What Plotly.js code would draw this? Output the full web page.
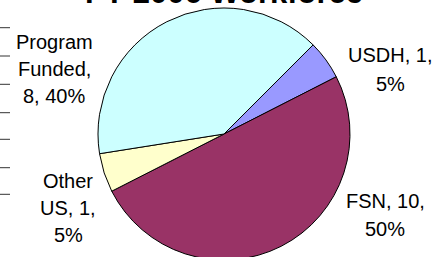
<!DOCTYPE html>
<html>
<head>
<meta charset="utf-8">
<script src="https://cdn.plot.ly/plotly-3.0.1.min.js"></script>
<style>
html, body { margin: 0; padding: 0; overflow: hidden; background: #fff; }
#wrap { width: 444px; height: 257px; overflow: hidden; }
#chart { width: 444px; height: 260px; }
</style>
</head>
<body>
<div id="wrap"><div id="chart"></div></div>
<script>
// ---- data ----
var chartTitle = "FY 2006 Workforce";
var categories = ["USDH", "FSN", "Other US", "Program Funded"];
var values = [1, 10, 1, 8];
var sliceColors = ["#9999FF", "#993366", "#FFFFCC", "#CCFFFF"];
// words per wrapped line of each data label
var labelWrap = [[2, 1], [2, 1], [1, 2, 1], [1, 1, 2]];

// ---- layout helpers (pixel positions) ----
var W = 444, H = 260, MT = 8, MB = 0;
function px2x(px) { return px / W; }
function px2y(py) { return (H - MB - py) / (H - MT - MB); }

// label block placement: center x, first line center y, line gap
var labelPos = [
  {x: 390, y: 55.3, gap: 29},
  {x: 385, y: 200.8, gap: 28.4},
  {x: 68, y: 180.5, gap: 27},
  {x: 54, y: 42.5, gap: 26.5}
];

var total = values.reduce(function (a, b) { return a + b; }, 0);
var annotations = [];
categories.forEach(function (cat, i) {
  var pct = Math.round(values[i] / total * 100);
  var words = (cat + ", " + values[i] + ", " + pct + "%").split(" ");
  var k = 0;
  labelWrap[i].forEach(function (n, li) {
    var line = words.slice(k, k + n).join(" ");
    k += n;
    annotations.push({
      text: line, showarrow: false, xref: "paper", yref: "paper",
      x: px2x(labelPos[i].x), y: px2y(labelPos[i].y + li * labelPos[i].gap),
      xanchor: "center", yanchor: "middle",
      font: {family: "Liberation Sans, Arial, sans-serif", size: 20, color: "#000"}
    });
  });
});

// small tick-like dashes at the left edge of the original picture
var dashY = [27.7, 56, 84.3, 112.7, 139.3, 167.7, 194.3];
var shapes = dashY.map(function (y) {
  return {type: "line", xref: "paper", yref: "paper",
    x0: px2x(0), x1: px2x(10), y0: px2y(y), y1: px2y(y),
    line: {color: "#333", width: 1}};
});

var trace = {
  type: "pie",
  labels: categories,
  values: values,
  sort: false,
  direction: "clockwise",
  rotation: 45,
  textinfo: "none",
  hoverinfo: "none",
  showlegend: false,
  marker: {colors: sliceColors, line: {color: "#000", width: 1}},
  domain: {x: [px2x(98), px2x(350)], y: [0, 1]}
};

var layout = {
  width: W, height: H,
  margin: {l: 0, r: 0, t: MT, b: MB, pad: 0},
  paper_bgcolor: "#fff",
  title: {
    text: chartTitle,
    font: {family: "Liberation Sans, Arial, sans-serif", size: 31, weight: "bold", color: "#000"},
    xref: "container", yref: "container",
    x: 224 / W, xanchor: "center",
    y: (H - 3) / H, yanchor: "bottom",
    automargin: false
  },
  annotations: annotations,
  shapes: shapes
};

Plotly.newPlot("chart", [trace], layout, {staticPlot: true, displayModeBar: false});
</script>
</body>
</html>
